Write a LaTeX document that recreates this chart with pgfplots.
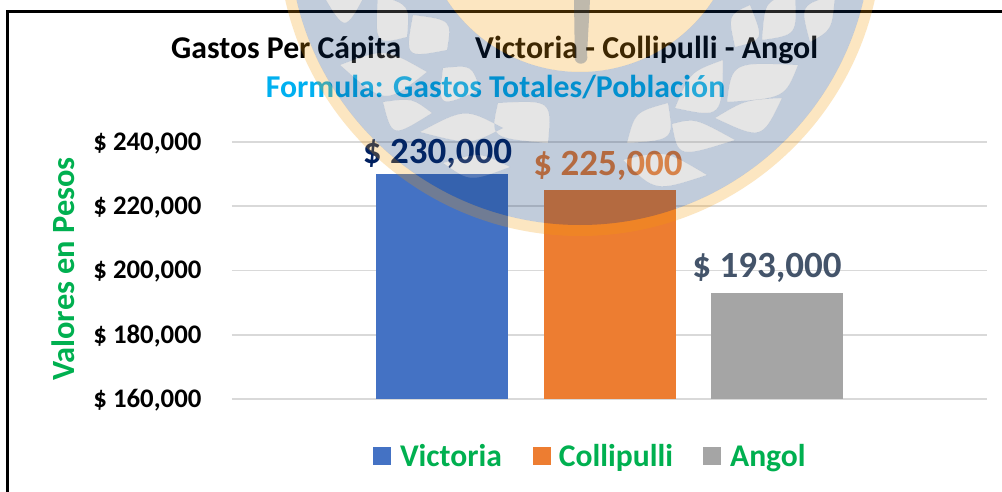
\documentclass[border=0pt]{standalone}
\usepackage{pgfplots}
\pgfplotsset{compat=1.18}
\usepackage{fontspec}
\setmainfont{Carlito}
\definecolor{cblue}{HTML}{4472C4}
\definecolor{corange}{HTML}{ED7D31}
\definecolor{cgray}{HTML}{A5A5A5}
\definecolor{cgreen}{HTML}{00B050}
\definecolor{ccyan}{HTML}{00B0F0}
\definecolor{cnavy}{HTML}{002060}
\definecolor{cslate}{HTML}{44546A}
\definecolor{wmblue}{RGB}{11,52,112}
\definecolor{wmor}{RGB}{245,156,8}
\definecolor{wmgray}{RGB}{152,152,152}
\newcommand{\fs}[1]{\fontsize{#1}{#1}\selectfont\bfseries}
% leaf of the watermark: two tips and a bulge point for each side, page pixels (y down)
\newcommand{\leaf}[8]{
  (#1,-#2) .. controls (#5,-#6) and (#5,-#6) .. (#3,-#4)
  .. controls (#7,-#8) and (#7,-#8) .. cycle
}
\newcommand{\allleaves}{
  \leaf{672}{124}{735}{140}{695}{118}{678}{158}
  \leaf{715}{118}{782}{98}{745}{100}{762}{140}
  \leaf{675}{108}{723}{60}{690}{72}{722}{118}
  \leaf{727}{102}{798}{65}{732}{62}{785}{98}
  \leaf{627}{143}{668}{103}{635}{112}{674}{140}
  \leaf{623}{160}{707}{175}{665}{150}{655}{192}
  \leaf{735}{47}{750}{5}{728}{15}{764}{40}
  \leaf{762}{40}{795}{-5}{765}{0}{797}{35}
  \leaf{810}{42}{835}{-5}{800}{5}{832}{30}
  \leaf{420}{132}{503}{128}{465}{108}{470}{145}
  \leaf{383}{102}{432}{113}{412}{98}{392}{138}
  \leaf{340}{65}{427}{72}{385}{48}{385}{105}
  \leaf{443}{68}{480}{90}{472}{65}{438}{108}
  \leaf{498}{103}{548}{143}{552}{100}{490}{138}
  \leaf{413}{15}{447}{50}{452}{20}{405}{58}
  \leaf{378}{-5}{407}{37}{410}{5}{375}{45}
  \leaf{323}{-5}{365}{-5}{345}{32}{345}{-8}
  \leaf{443}{163}{510}{167}{480}{152}{470}{182}
}
\begin{document}
\begin{tikzpicture}[x=1pt,y=1pt]
\path[use as bounding box,fill=white] (0,0) rectangle (1002,-492);
\draw[line width=3pt,black] (7,-492) -- (7,-11.5) -- (1002,-11.5);
\begin{axis}[
  at={(232pt,-399pt)},anchor=south west,
  width=755pt,height=257pt,scale only axis,
  xmin=232,xmax=987,ymin=160000,ymax=240000,
  axis line style={draw=none},
  major tick length=0pt,
  xtick=\empty,
  ytick={160000,180000,200000,220000,240000},
  ymajorgrids,
  grid style={draw=black!15,line width=1.8pt},
  yticklabel style={font=\fs{26.8},text=black,/pgf/number format/assume math mode=true,xshift=-27pt,yshift=-1.5pt},
  yticklabel={\$ \pgfmathprintnumber[1000 sep={,},fixed]{\tick}},
  scaled y ticks=false,
  ybar,bar width=132pt,
  legend columns=3,
  legend style={at={(axis description cs:0.1868,-0.2218)},anchor=west,draw=none,fill=none,
    inner sep=0pt,outer sep=0pt,font=\fs{31.6},text=cgreen,
    /tikz/column 2/.style={column sep=31pt},
    /tikz/column 4/.style={column sep=30pt},
    /tikz/column 1/.style={column sep=9pt},
    /tikz/column 3/.style={column sep=8pt},
    /tikz/column 5/.style={column sep=9pt},
    nodes={inner sep=0pt,outer sep=0pt}},
  clip=false,
]
\addplot[fill=cblue,draw=none,bar shift=0pt,
  legend image code/.code={\fill[cblue] (0pt,-9pt) rectangle (18pt,9pt);},
  nodes near coords={\$ 230,000},
  every node near coord/.style={font=\fs{37},text=cnavy,anchor=south,yshift=2pt,xshift=-4.5pt}]
  coordinates {(442,230000)};
\addlegendentry{Victoria}
\addplot[fill=corange,draw=none,bar shift=0pt,
  legend image code/.code={\fill[corange] (0pt,-9pt) rectangle (18pt,9pt);},
  nodes near coords={\$ 225,000},
  every node near coord/.style={font=\fs{37},text=corange,anchor=south,yshift=6pt,xshift=-2pt}]
  coordinates {(610,225000)};
\addlegendentry{Collipulli}
\addplot[fill=cgray,draw=none,bar shift=0pt,
  legend image code/.code={\fill[cgray] (0pt,-9pt) rectangle (18pt,9pt);},
  nodes near coords={\$ 193,000},
  every node near coord/.style={font=\fs{37},text=cslate,anchor=south,yshift=7pt,xshift=-10pt}]
  coordinates {(777,193000)};
\addlegendentry{Angol}
\end{axis}
% titles
\node[anchor=base west,font=\fs{31.7},inner sep=0pt] at (171,-59) {Gastos Per Cápita};
\node[anchor=base west,font=\fs{31.9},inner sep=0pt] at (475,-59) {Victoria - Collipulli - Angol};
\node[anchor=base,font=\fs{31.8},text=ccyan,inner sep=0pt] at (495.5,-98) {Formula: Gastos Totales/Población};
\node[rotate=90,anchor=center,font=\fs{32.4},text=cgreen] at (63,-269) {Valores en Pesos};
% watermark lying over the chart
\begin{scope}
\clip (0,0) rectangle (1002,-492);
\fill[wmor,opacity=.25,even odd rule] (580,66) circle[radius=302] (580,66) circle[radius=291];
\fill[wmor,opacity=.25] (580,87) circle[radius=159];
\fill[wmblue,opacity=.25] (574,0) -- (590,0) -- (587,-55) arc[start angle=20,end angle=-200,radius=6.5] -- cycle;
\fill[wmblue,opacity=.25,even odd rule] (580,66) circle[radius=291] (580,87) circle[radius=159] \allleaves;
\fill[wmgray,opacity=.25,even odd rule] \allleaves;
\end{scope}
\end{tikzpicture}
\end{document}
